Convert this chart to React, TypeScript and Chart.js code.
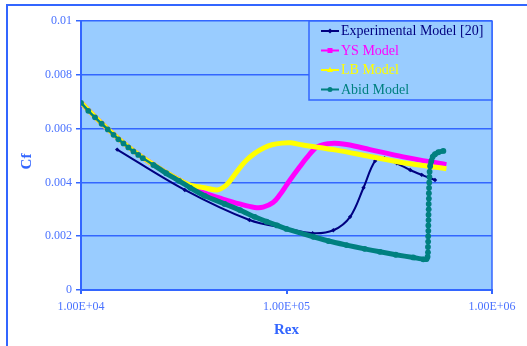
import { useEffect, useRef } from 'react';
import { Chart, registerables } from 'chart.js';

Chart.register(...registerables);

// ---- data ----
const seriesNames = ['Experimental Model [20]', 'YS Model', 'LB Model', 'Abid Model'];
const seriesColors = ['#000080', '#FF00FF', '#FFFF00', '#008080'];

const expRex = [1.5e4, 3.2e4, 6.6e4, 1.0e5, 1.34e5, 1.69e5, 2.04e5, 2.37e5, 2.7e5, 3.0e5, 3.44e5, 4.0e5, 4.55e5, 5.28e5];
const expCf = [0.00522, 0.00372, 0.0026, 0.00229, 0.00211, 0.00222, 0.00272, 0.0038, 0.0048, 0.0049, 0.00471, 0.00446, 0.00428, 0.00409];

const ysRex = [1.0e4, 1.26e4, 1.61e4, 2.0e4, 2.6e4, 3.0e4, 3.4e4, 4.0e4, 4.9e4, 5.9e4, 7.0e4, 7.7e4, 8.6e4, 9.3e4, 1.0e5, 1.04e5, 1.16e5, 1.25e5, 1.4e5, 1.6e5, 1.8e5, 2.0e5, 2.55e5, 3.7e5, 6.0e5];
const ysCf = [0.00697, 0.0062, 0.00547, 0.00492, 0.00436, 0.0041, 0.00386, 0.0036, 0.00338, 0.0032, 0.00307, 0.00308, 0.00325, 0.00355, 0.0039, 0.00409, 0.00458, 0.0049, 0.0053, 0.00544, 0.00545, 0.0054, 0.00522, 0.00495, 0.00466];

const lbRex = [1.0e4, 1.26e4, 1.61e4, 2.0e4, 2.6e4, 3.0e4, 3.4e4, 4.0e4, 4.6e4, 5.0e4, 5.3e4, 5.94e4, 6.4e4, 7.0e4, 7.7e4, 8.5e4, 9.5e4, 1.05e5, 1.2e5, 1.75e5, 2.55e5, 3.7e5, 6.0e5];
const lbCf = [0.00697, 0.0062, 0.00547, 0.00492, 0.00437, 0.0041, 0.0039, 0.0038, 0.00372, 0.00385, 0.00405, 0.00455, 0.00483, 0.00508, 0.00527, 0.0054, 0.00546, 0.00547, 0.00539, 0.0052, 0.00496, 0.00473, 0.00451];

const abidRex = [
  1.0e4, 1.085e4, 1.17e4, 1.26e4, 1.35e4, 1.44e4, 1.52e4, 1.61e4, 1.7e4, 1.8e4, 1.9e4, 2.0e4,
  2.25e4, 2.6e4, 3.0e4, 3.4e4, 4.0e4, 5.0e4, 5.94e4, 7.0e4, 8.0e4, 9.0e4, 1.0e5, 1.35e5, 1.6e5,
  1.96e5, 2.4e5, 2.85e5, 3.4e5, 4.14e5, 4.63e5, 4.8e5, 4.86e5,
  4.88e5, 4.88e5, 4.89e5, 4.89e5, 4.9e5, 4.9e5, 4.91e5, 4.91e5, 4.92e5, 4.92e5, 4.93e5, 4.93e5,
  4.94e5, 4.95e5, 4.96e5, 4.97e5, 5.0e5, 5.07e5, 5.15e5, 5.28e5, 5.48e5, 5.8e5,
];
const abidCf = [
  0.00696, 0.00666, 0.00642, 0.00618, 0.00597, 0.00577, 0.0056, 0.00545, 0.0053, 0.00515, 0.00502, 0.0049,
  0.00465, 0.00434, 0.00406, 0.0038, 0.0035, 0.0032, 0.00297, 0.00272, 0.00254, 0.0024, 0.00227, 0.00198, 0.00182,
  0.00167, 0.00153, 0.00142, 0.00131, 0.00121, 0.00114, 0.00115, 0.00124,
  0.0014, 0.0016, 0.0018, 0.002, 0.0022, 0.0024, 0.0026, 0.0028, 0.003, 0.0032, 0.0034, 0.0036,
  0.0038, 0.004, 0.0042, 0.0044, 0.0046, 0.0048, 0.00496, 0.00505, 0.00512, 0.00517,
];

const xTickValues = [1e4, 1e5, 1e6];
const xTickLabels = ['1.00E+04', '1.00E+05', '1.00E+06'];
const yTickLabels = ['0', '0.002', '0.004', '0.006', '0.008', '0.01'];
const xTitle = 'Rex';
const yTitle = 'Cf';

// ---- styles ----
const BLUE = '#3366FF';
const TICK_BLUE = '#4a72ff';
const PLOT_BG = '#99CCFF';
const FONT = "'Liberation Serif', 'Times New Roman', serif";

const pts = (xs: number[], ys: number[]) => xs.map((x, i) => ({ x, y: ys[i] }));

const framePlugin = {
  id: 'frame',
  beforeDraw(chart: any) {
    const { ctx, chartArea, width, height } = chart;
    ctx.save();
    ctx.fillStyle = '#ffffff';
    ctx.fillRect(0, 0, width, height);
    ctx.strokeStyle = BLUE;
    ctx.lineWidth = 2;
    ctx.beginPath();
    ctx.moveTo(7, height + 2);
    ctx.lineTo(7, 5);
    ctx.lineTo(width + 2, 5);
    ctx.stroke();
    ctx.fillStyle = PLOT_BG;
    ctx.fillRect(chartArea.left, chartArea.top, chartArea.right - chartArea.left, chartArea.bottom - chartArea.top);
    ctx.restore();
  },
  beforeDatasetsDraw(chart: any) {
    const { ctx, chartArea } = chart;
    ctx.save();
    ctx.strokeStyle = BLUE;
    ctx.lineWidth = 1.5;
    ctx.beginPath();
    ctx.moveTo(chartArea.right, chartArea.top);
    ctx.lineTo(chartArea.right, chartArea.bottom + 4);
    ctx.stroke();
    // y axis title (drawn here so it can sit where the reference has it)
    ctx.translate(27, (chartArea.top + chartArea.bottom) / 2 + 6);
    ctx.rotate(-Math.PI / 2);
    ctx.font = `bold 15px ${FONT}`;
    ctx.fillStyle = BLUE;
    ctx.textAlign = 'center';
    ctx.textBaseline = 'middle';
    ctx.fillText(yTitle, 0, 0);
    ctx.restore();
  },
};

const markerStyles = ['diamond', 'square', 'triangle', 'circle'];

const legendPlugin = {
  id: 'boxLegend',
  afterDraw(chart: any) {
    const { ctx, chartArea } = chart;
    const w = 183;
    const h = 79;
    const x0 = chartArea.right - w;
    const y0 = chartArea.top;
    ctx.save();
    ctx.fillStyle = PLOT_BG;
    ctx.fillRect(x0, y0, w, h);
    ctx.strokeStyle = BLUE;
    ctx.lineWidth = 1.5;
    ctx.strokeRect(x0, y0, w, h);
    chart.data.datasets.forEach((ds: any, i: number) => {
      const y = y0 + 10 + i * 19.5;
      const lx = x0 + 12;
      const color = seriesColors[i];
      ctx.strokeStyle = color;
      ctx.fillStyle = color;
      ctx.lineWidth = 2;
      ctx.beginPath();
      ctx.moveTo(lx, y);
      ctx.lineTo(lx + 18, y);
      ctx.stroke();
      const mx = lx + 9;
      const st = markerStyles[i];
      ctx.beginPath();
      if (st === 'diamond') {
        ctx.moveTo(mx, y - 2.5); ctx.lineTo(mx + 2.5, y); ctx.lineTo(mx, y + 2.5); ctx.lineTo(mx - 2.5, y); ctx.closePath();
      } else if (st === 'square') {
        ctx.rect(mx - 2.5, y - 2.5, 5, 5);
      } else if (st === 'triangle') {
        ctx.moveTo(mx, y - 3); ctx.lineTo(mx + 3, y + 2); ctx.lineTo(mx - 3, y + 2); ctx.closePath();
      } else {
        ctx.arc(mx, y, 2.5, 0, Math.PI * 2);
      }
      ctx.fill();
      ctx.font = `14px ${FONT}`;
      ctx.textBaseline = 'middle';
      ctx.textAlign = 'left';
      ctx.fillText(ds.label, lx + 20, y + 0.5);
    });
    ctx.restore();
  },
};

export default function App() {
  const ref = useRef<HTMLCanvasElement>(null);

  useEffect(() => {
    document.body.style.margin = '0';
    if (!ref.current) return;
    Chart.defaults.font.family = FONT;
    const chart = new Chart(ref.current, {
      type: 'line',
      data: {
        datasets: [
          {
            label: seriesNames[0],
            data: pts(expRex, expCf),
            borderColor: seriesColors[0],
            backgroundColor: seriesColors[0],
            borderWidth: 2,
            pointRadius: 2.2,
            pointStyle: 'rectRot',
            pointBorderWidth: 0,
            tension: 0.35,
            order: 3,
          },
          {
            label: seriesNames[1],
            data: pts(ysRex, ysCf),
            borderColor: seriesColors[1],
            backgroundColor: seriesColors[1],
            borderWidth: 5,
            pointRadius: 0,
            tension: 0.35,
            order: 2,
          },
          {
            label: seriesNames[2],
            data: pts(lbRex, lbCf),
            borderColor: seriesColors[2],
            backgroundColor: seriesColors[2],
            borderWidth: 5,
            pointRadius: 0,
            tension: 0.35,
            order: 1,
          },
          {
            label: seriesNames[3],
            data: pts(abidRex, abidCf),
            borderColor: seriesColors[3],
            backgroundColor: seriesColors[3],
            borderWidth: 5,
            pointRadius: 2.9,
            pointBorderWidth: 0,
            tension: 0.15,
            order: 0,
            segment: {
              borderWidth: (c: any) => {
                if (c.p0.parsed.x < 2.1e4) return 2.5;
                if (c.p0.parsed.x >= 4.85e5 && c.p1.parsed.y < 0.0047) return 2.5;
                return 5;
              },
            },
          } as any,
        ],
      },
      options: {
        responsive: false,
        animation: false,
        layout: { padding: { left: 0, top: 21, right: 35, bottom: 0 } },
        plugins: { legend: { display: false }, tooltip: { enabled: false } },
        scales: {
          x: {
            type: 'logarithmic',
            min: 1e4,
            max: 1e6,
            afterBuildTicks: (s: any) => {
              s.ticks = xTickValues.map((v) => ({ value: v }));
            },
            afterFit: (s: any) => {
              s.height = 56;
            },
            ticks: {
              callback: (_v: any, i: number) => xTickLabels[i],
              color: TICK_BLUE,
              font: { size: 12, family: FONT },
              padding: 6,
              maxRotation: 0,
              autoSkip: false,
            },
            grid: { drawOnChartArea: false, drawTicks: true, tickLength: 4, color: BLUE, lineWidth: 2 },
            border: { color: BLUE, width: 2 },
            title: {
              display: true,
              text: xTitle,
              color: BLUE,
              font: { size: 15, weight: 'bold', family: FONT },
              padding: { top: 0, bottom: 7 },
            },
          },
          y: {
            type: 'linear',
            min: 0,
            max: 0.01,
            afterFit: (s: any) => {
              s.width = 81;
            },
            ticks: {
              stepSize: 0.002,
              callback: (_v: any, i: number) => yTickLabels[i],
              color: TICK_BLUE,
              font: { size: 12, family: FONT },
              padding: 4,
            },
            grid: { color: BLUE, lineWidth: 1.5, tickLength: 5, drawTicks: true },
            border: { color: BLUE, width: 2 },
            title: { display: false },
          },
        },
      } as any,
      plugins: [framePlugin, legendPlugin],
    });
    return () => chart.destroy();
  }, []);

  return (
    <div style={{ width: 527, height: 346 }}>
      <canvas ref={ref} width={527} height={346} style={{ display: 'block' }} />
    </div>
  );
}
